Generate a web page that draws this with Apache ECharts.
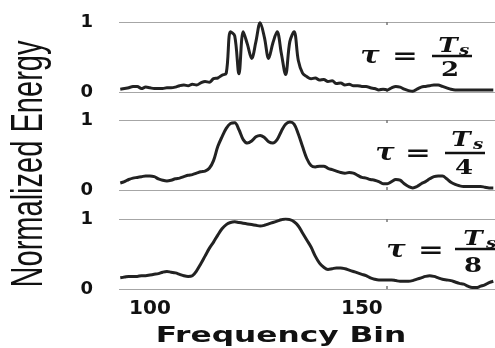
<!DOCTYPE html>
<html>
<head>
<meta charset="utf-8">
<script src="https://cdn.jsdelivr.net/npm/echarts@6.0.0/dist/echarts.min.js"></script>
<style>
  html, body { margin: 0; padding: 0; background: #fff; }
  #chart { width: 495px; height: 348px; }
</style>
</head>
<body>
<div id="chart"></div>
<script>
// frequency bins along the x axis
const bins = [
  93, 94, 95, 96, 97, 98, 99, 100, 101, 102,
  103, 104, 105, 106, 107, 108, 109, 110, 111, 112,
  113, 114, 115, 116, 117, 118, 119, 120, 121, 122,
  123, 124, 125, 126, 127, 128, 129, 130, 131, 132,
  133, 134, 135, 136, 137, 138, 139, 140, 141, 142,
  143, 144, 145, 146, 147, 148, 149, 150, 151, 152,
  153, 154, 155, 156, 157, 158, 159, 160, 161, 162,
  163, 164, 165, 166, 167, 168, 169, 170, 171, 172,
  173, 174, 175, 176, 177, 178, 179, 180, 181
]

// tau = Ts/2
const energyHalf = [
  0.04, 0.05, 0.06, 0.08, 0.08, 0.05, 0.07, 0.06, 0.05, 0.05,
  0.05, 0.06, 0.06, 0.07, 0.09, 0.10, 0.09, 0.11, 0.10, 0.13,
  0.15, 0.14, 0.19, 0.20, 0.24, 0.27, 0.86, 0.80, 0.26, 0.86,
  0.68, 0.48, 0.72, 0.99, 0.78, 0.48, 0.70, 0.86, 0.55, 0.25,
  0.72, 0.86, 0.45, 0.27, 0.22, 0.19, 0.20, 0.17, 0.18, 0.15,
  0.16, 0.12, 0.13, 0.10, 0.11, 0.09, 0.09, 0.08, 0.08, 0.06,
  0.05, 0.03, 0.04, 0.03, 0.06, 0.08, 0.07, 0.04, 0.02, 0.01,
  0.04, 0.07, 0.08, 0.09, 0.10, 0.10, 0.08, 0.06, 0.04, 0.03,
  0.03, 0.03, 0.03, 0.03, 0.03, 0.03, 0.03, 0.03, 0.03
]

// tau = Ts/4
const energyQuarter = [
  0.10, 0.12, 0.15, 0.17, 0.18, 0.19, 0.20, 0.20, 0.19, 0.16,
  0.14, 0.13, 0.14, 0.16, 0.17, 0.19, 0.21, 0.22, 0.24, 0.26,
  0.27, 0.31, 0.42, 0.62, 0.76, 0.88, 0.95, 0.96, 0.86, 0.72,
  0.67, 0.70, 0.76, 0.78, 0.75, 0.69, 0.67, 0.72, 0.84, 0.94,
  0.97, 0.94, 0.80, 0.62, 0.45, 0.35, 0.33, 0.34, 0.34, 0.31,
  0.29, 0.27, 0.25, 0.24, 0.25, 0.24, 0.21, 0.18, 0.17, 0.15,
  0.14, 0.12, 0.09, 0.09, 0.12, 0.15, 0.14, 0.09, 0.05, 0.03,
  0.05, 0.09, 0.12, 0.16, 0.19, 0.20, 0.20, 0.16, 0.11, 0.08,
  0.06, 0.05, 0.05, 0.05, 0.05, 0.05, 0.04, 0.03, 0.03
]

// tau = Ts/8
const energyEighth = [
  0.16, 0.17, 0.18, 0.18, 0.18, 0.19, 0.19, 0.20, 0.21, 0.22,
  0.24, 0.25, 0.24, 0.23, 0.21, 0.19, 0.18, 0.19, 0.26, 0.36,
  0.47, 0.58, 0.67, 0.77, 0.86, 0.92, 0.95, 0.96, 0.95, 0.94,
  0.93, 0.92, 0.91, 0.90, 0.91, 0.93, 0.95, 0.97, 0.99, 1.00,
  0.99, 0.96, 0.90, 0.80, 0.70, 0.60, 0.47, 0.37, 0.31, 0.28,
  0.29, 0.30, 0.30, 0.29, 0.27, 0.25, 0.23, 0.21, 0.19, 0.16,
  0.14, 0.13, 0.13, 0.13, 0.13, 0.12, 0.11, 0.11, 0.11, 0.12,
  0.14, 0.16, 0.18, 0.19, 0.18, 0.16, 0.14, 0.13, 0.12, 0.10,
  0.08, 0.07, 0.04, 0.02, 0.02, 0.04, 0.06, 0.09, 0.11
]

const xTicks = [100, 150]
const xTickMarks = [155.8]
const yTicks = [0, 1]
const divisors = ['2', '4', '8']

const panels = [energyHalf, energyQuarter, energyEighth]
const panelTops = [22, 120, 219]
const panelHeight = 70

const option = {
  animation: false,
  backgroundColor: '#fff',
  grid: [],
  xAxis: [],
  yAxis: [],
  series: [],
  graphic: []
}

panels.forEach((values, i) => {
  const last = i === panels.length - 1
  option.grid.push({ left: 119, right: 0, top: panelTops[i], height: panelHeight })
  // bottom axis carries the series, top one only draws the small tick mark
  ;['bottom', 'top'].forEach((pos) => {
    option.xAxis.push({
      type: 'value',
      gridIndex: i,
      position: pos,
      min: 92.7,
      max: 181.4,
      axisLine: { show: false },
      axisTick: {
        show: true,
        customValues: xTickMarks,
        inside: true,
        length: 3,
        lineStyle: { color: '#777', width: 1.5 }
      },
      splitLine: { show: false },
      axisLabel: {
        show: last && pos === 'bottom',
        customValues: xTicks,
        margin: 10,
        color: '#111',
        fontFamily: 'DejaVu Sans',
        fontWeight: 'bold',
        fontSize: 20
      }
    })
  })
  option.yAxis.push({
    type: 'value',
    gridIndex: i,
    min: 0,
    max: 1,
    interval: 1,
    axisLine: { show: false },
    axisTick: { show: false },
    splitLine: { show: true, lineStyle: { color: '#a6a6a6', width: 1 } },
    axisLabel: {
      customValues: yTicks,
      margin: 26,
      color: '#111',
      fontFamily: 'DejaVu Sans',
      fontWeight: 'bold',
      fontSize: 18
    }
  })
  option.series.push({
    type: 'line',
    xAxisIndex: i * 2,
    yAxisIndex: i,
    data: bins.map((b, k) => [b, values[k]]),
    showSymbol: false,
    smooth: 0.35,
    lineStyle: { color: '#222', width: 3 },
    silent: true
  })
})

// tau annotations, placed per panel
const tauPos = [
  { tau: [370, 57], eq: [405, 57], bar: [432, 472, 56], T: [448, 47], s: [464, 51], d: [450, 71] },
  { tau: [385, 154], eq: [418, 154], bar: [445, 485, 153], T: [461, 141], s: [478, 145], d: [464, 169] },
  { tau: [396, 251], eq: [431, 251], bar: [455, 498, 249], T: [473, 240], s: [491, 244], d: [473, 267] }
]

function mathText(text, pos, font, sx) {
  return {
    type: 'text',
    x: pos[0],
    y: pos[1],
    scaleX: sx,
    style: { text: text, font: font, fill: '#111', align: 'center', verticalAlign: 'middle' }
  }
}

tauPos.forEach((p, i) => {
  option.graphic.push(mathText('τ', p.tau, 'bold italic 24px "DejaVu Serif"', 1.2))
  option.graphic.push(mathText('=', p.eq, 'bold 22px "DejaVu Serif"', 1.4))
  option.graphic.push(mathText('T', p.T, 'bold italic 20px "DejaVu Serif"', 1.3))
  option.graphic.push(mathText('s', p.s, 'bold italic 14px "DejaVu Serif"', 1.3))
  option.graphic.push(mathText(divisors[i], p.d, 'bold 20px "DejaVu Serif"', 1.3))
  option.graphic.push({
    type: 'line',
    shape: { x1: p.bar[0], y1: p.bar[2], x2: p.bar[1], y2: p.bar[2] },
    style: { stroke: '#111', lineWidth: 2.5 }
  })
})

// axis titles
option.graphic.push({
  type: 'group',
  x: 30,
  y: 164,
  rotation: Math.PI / 2,
  children: [{
    type: 'text',
    scaleX: 0.66,
    style: {
      text: 'Normalized Energy',
      font: '44px "Liberation Sans"',
      fill: '#111',
      align: 'center',
      verticalAlign: 'middle'
    }
  }]
})
option.graphic.push({
  type: 'text',
  x: 281,
  y: 336,
  scaleX: 1.42,
  style: {
    text: 'Frequency Bin',
    font: 'bold 22px "DejaVu Sans"',
    fill: '#111',
    align: 'center',
    verticalAlign: 'middle'
  }
})

const chart = echarts.init(document.getElementById('chart'), null, { renderer: 'canvas' })
chart.setOption(option)
</script>
</body>
</html>
